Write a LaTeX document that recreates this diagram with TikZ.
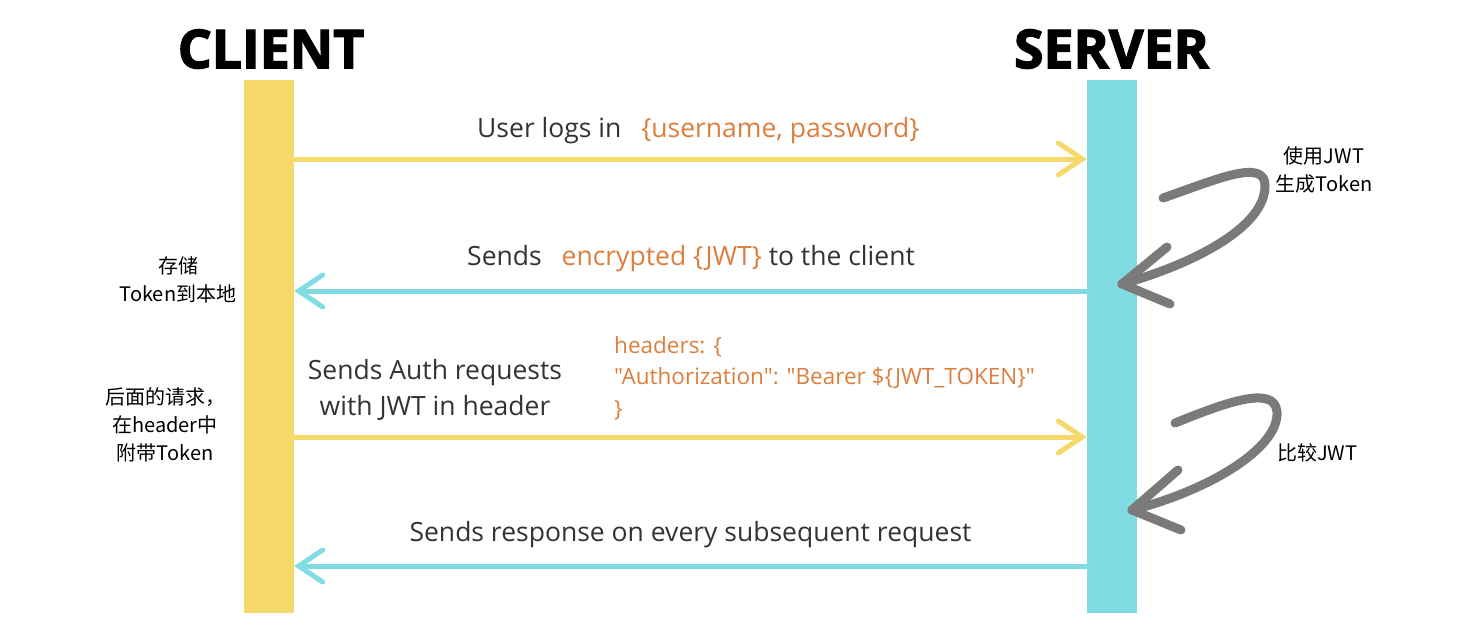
\documentclass[tikz,border=0pt]{standalone}
\usepackage{fontspec}
\setmainfont{Open Sans}
\newfontfamily\cjk{Noto Sans CJK SC}
\newfontfamily\codefont[Ligatures=TeXOff]{Open Sans}
\newfontfamily\titlefont[BoldFeatures={FakeBold=2.5}]{Open Sans}
\usetikzlibrary{arrows.meta}
\definecolor{cyell}{HTML}{F6D96B}
\definecolor{ccyan}{HTML}{80DCE2}
\definecolor{corange}{HTML}{DC7E3E}
\definecolor{ctext}{HTML}{333333}
\definecolor{cgray}{HTML}{7A7A7A}
\tikzset{
  bar/.style={draw=none, inner sep=0pt, minimum width=50pt, minimum height=533pt},
  msg/.style={line width=5pt, line cap=round, line join=round, -{Straight Barb[length=24pt,width=32pt,line cap=round]}},
  lbl/.style={inner sep=0pt, text=ctext, font=\fontsize{26.5}{36}\selectfont},
  code/.style={inner sep=0pt, text=corange, font=\codefont\fontsize{22.5}{31.5}\selectfont, align=left},
  note/.style={inner sep=0pt, text=black, font=\cjk\fontsize{20}{28}\selectfont, align=center},
  title/.style={inner sep=0pt, text=black, font=\titlefont\bfseries\fontsize{53.5}{54}\selectfont},
  loopy/.style={draw=cgray, line width=9pt, line cap=round, line join=round},
}
\begin{document}
\begin{tikzpicture}[x=1pt,y=-1pt]
\useasboundingbox (0,0) rectangle (1474,627);
% lifelines
\node[bar, fill=cyell] (client) at (269,346.5) {};
\node[bar, fill=ccyan] (server) at (1112,346.5) {};
% titles
\node[title] (tclient) at (271,49) {CLIENT};
\node[title] (tserver) at (1111.5,49) {SERVER};
% message rows
\coordinate (r1) at (0,159);
\coordinate (r2) at (0,291);
\coordinate (r3) at (0,437);
\coordinate (r4) at (0,566);
\draw[msg, cyell] (client.east |- r1) -- (server.west |- r1);
\draw[msg, ccyan] (server.west |- r2) -- (client.east |- r2);
\draw[msg, cyell] (client.east |- r3) -- (server.west |- r3);
\draw[msg, ccyan] (server.west |- r4) -- (client.east |- r4);
% labels
\node[lbl, anchor=base west] (l1) at (477,137) {User logs in\hspace{13pt} \textcolor{corange}{\{username, password\}}};
\node[lbl, anchor=base west] (l2) at (467,265) {Sends\hspace{13pt} \textcolor{corange}{encrypted \{JWT\}} to the client};
\node[lbl, align=center] (l3) at (435,390) {Sends Auth requests\\with JWT in header};
\node[code, anchor=north west] (l3b) at (614,336) {headers: \{\\"Authorization": "Bearer \$\{JWT\_TOKEN\}"\\\}};
\node[lbl, anchor=base] (l4) at (690.5,541) {Sends response on every subsequent request};
% side notes
\node[note] (n1) at (178,280) {存储\\Token到本地};
\node[note] (n2) at (165,425) {后面的请求，\\在header中\\附带Token};
\node[note] (n3) at (1324,170) {使用JWT\\生成Token};
\node[note, anchor=west] (n4) at (1277,453) {比较JWT};
% curly self arrows
\draw[loopy] (1163,198) .. controls (1215,180) and (1264,158) .. (1265,185) .. controls (1266,228) and (1190,265) .. (1122,284);
\draw[loopy] (1167,247) -- (1122,284) -- (1170,304);
\draw[loopy] (1175,423) .. controls (1220,405) and (1275,383) .. (1277,412) .. controls (1279,448) and (1210,490) .. (1132,510);
\draw[loopy] (1178,470) -- (1132,510) -- (1181,530);
\end{tikzpicture}
\end{document}
